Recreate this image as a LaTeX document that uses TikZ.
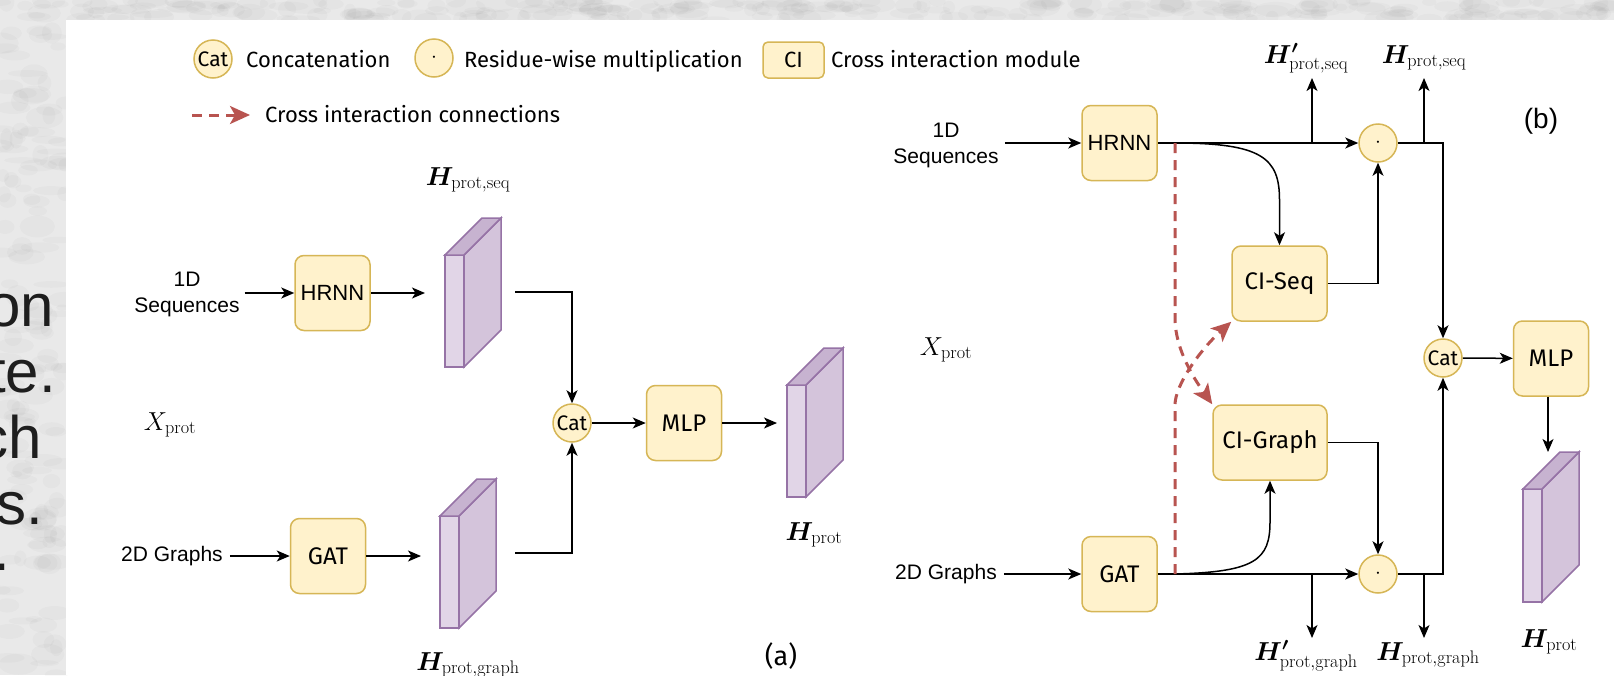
\RequirePackage{fix-cm}
\documentclass[tikz,border=0pt]{standalone}
\usepackage{fontspec}
\usepackage{amsmath,bm}
\usetikzlibrary{arrows.meta}
\newfontfamily\arialf{Liberation Sans}
\newfontfamily\comicf{Fira Sans}
\definecolor{boxfill}{HTML}{FFF2CC}
\definecolor{boxline}{HTML}{D6B656}
\definecolor{cubeline}{HTML}{9673A6}
\definecolor{cubefront}{HTML}{E1D5E7}
\definecolor{cubeside}{HTML}{D4C4DB}
\definecolor{cubetop}{HTML}{C7B3D0}
\definecolor{redc}{HTML}{B85450}
\definecolor{bggray}{HTML}{E9E9E9}
\definecolor{slidetext}{HTML}{1E1E1E}
\newcommand{\mycube}[4]{%
  \filldraw[cubeface, fill=cubefront] (#1,#2) rectangle ++(#3,#4);
  \filldraw[cubeface, fill=cubeside] ({#1+#3},#2) -- ++(37,-37) -- ++(0,#4) -- ++(-37,37) -- cycle;
  \filldraw[cubeface, fill=cubetop] (#1,#2) -- ++(37,-37) -- ++(#3,0) -- ++(-37,37) -- cycle;
}
\begin{document}
\begin{tikzpicture}[x=1pt,y=-1pt,
  arr/.style={-{Stealth[length=13pt,width=11pt,inset=3.5pt]}, line width=1.5pt},
  redarr/.style={draw=redc, line width=3pt, dash pattern=on 10pt off 7pt, -{Stealth[length=20pt,width=18pt,inset=5pt]}},
  box/.style={draw=boxline, fill=boxfill, line width=1.5pt, rounded corners=9pt, minimum width=75pt, minimum height=75pt, inner sep=0pt, font=\comicf\fontsize{24}{28}\selectfont},
  circ/.style={circle, draw=boxline, fill=boxfill, line width=1.5pt, minimum size=38pt, inner sep=0pt, font=\comicf\fontsize{21}{24}\selectfont},
  ctext/.style={inner sep=0pt, font=\comicf\fontsize{22}{26}\selectfont},
  lbl/.style={inner sep=0pt, align=center, font=\arialf\fontsize{21}{26}\selectfont},
  mlbl/.style={inner sep=0pt, font=\fontsize{26}{30}\selectfont},
  slide/.style={inner sep=0pt, text=slidetext, font=\arialf\fontsize{60}{66}\selectfont},
  blot/.style={fill=black, opacity=0.018},
  cubeface/.style={draw=cubeline, line width=1.5pt, line join=miter}]
\useasboundingbox (0,0) rectangle (1614,675);
\fill[bggray] (0,0) rectangle (1614,675);
% soft mottled texture of the slide background
\pgfmathsetseed{11}
\foreach \i in {1,...,160}{
  \pgfmathsetmacro\xx{rnd*66}
  \pgfmathsetmacro\yy{rnd*675}
  \pgfmathsetmacro\aa{6+rnd*14}
  \pgfmathsetmacro\bb{3+rnd*8}
  \fill[blot] (\xx,\yy) ellipse ({\aa} and {\bb});
}
\foreach \i in {1,...,260}{
  \pgfmathsetmacro\xx{66+rnd*1548}
  \pgfmathsetmacro\yy{rnd*20}
  \pgfmathsetmacro\aa{6+rnd*16}
  \pgfmathsetmacro\bb{3+rnd*6}
  \fill[blot] (\xx,\yy) ellipse ({\aa} and {\bb});
}
\fill[white] (66,20) rectangle (1614,675);
% slide text behind
\node[slide, anchor=base east] (s1) at (54,326) {on};
\node[slide, anchor=base east] (s2) at (56,392) {te.};
\node[slide, anchor=base east] (s3) at (42,458) {ch};
\node[slide, anchor=base east] (s4) at (43,524) {s.};
\node[slide, anchor=base east] (s5) at (10,570) {.};
% legend
\node[circ] (lcat) at (213,59) {Cat};
\node[ctext, anchor=base west] (lcatt) at (246,67) {Concatenation};
\node[circ] (ldot) at (434,58) {$\cdot$};
\node[ctext, anchor=base west] (ldott) at (464,67) {Residue-wise multiplication};
\node[box, minimum width=61pt, minimum height=36pt, rounded corners=5pt, font=\comicf\fontsize{22}{26}\selectfont] (lci) at (793.5,60) {CI};
\node[ctext, anchor=base west] (lcit) at (831,67) {Cross interaction module};
\coordinate (lr1) at (192,115);
\coordinate (lr2) at (250,115);
\draw[redarr] (lr1) -- (lr2);
\node[ctext, anchor=base west] (lrt) at (265,122) {Cross interaction connections};
% ---------------- (a)
\node[lbl] (aseq) at (187,294) {1D\\Sequences};
\node[box, font=\arialf\fontsize{22}{26}\selectfont] (ahrnn) at (332.5,293) {HRNN};
\node[lbl] (a2d) at (172,556) {2D Graphs};
\node[box] (agat) at (328,556) {GAT};
\node[mlbl, anchor=base] (axp) at (170,430) {$X_{\mathrm{prot}}$};
\mycube{445}{255}{19}{112}
\mycube{440}{516}{19}{112}
\mycube{787}{385}{19}{112}
\node[mlbl, anchor=base] (ahs) at (468,185) {$\bm{H}_{\mathrm{prot,seq}}$};
\node[mlbl, anchor=base] (ahg) at (468,670) {$\bm{H}_{\mathrm{prot,graph}}$};
\node[mlbl, anchor=base] (ahp) at (814,540) {$\bm{H}_{\mathrm{prot}}$};
\node[circ] (acat) at (572,423) {Cat};
\node[box] (amlp) at (684,423) {MLP};
\node[ctext, anchor=base, font=\comicf\fontsize{27}{30}\selectfont] (alab) at (781,665) {(a)};
\coordinate (aseqin) at (425,293);
\coordinate (agrin) at (421,556);
\coordinate (aseqo) at (515,292);
\coordinate (agro) at (515,553);
\coordinate (aoutin) at (777,423);
\draw[arr] ([xshift=5pt]aseq.east |- ahrnn) -- (ahrnn);
\draw[arr] (ahrnn) -- (aseqin);
\draw[arr] ([xshift=7pt]a2d.east) -- (agat);
\draw[arr] (agat) -- (agrin);
\draw[arr] (aseqo) -| (acat);
\draw[arr] (agro) -| (acat);
\draw[arr] (acat) -- (amlp);
\draw[arr] (amlp) -- (aoutin);
% ---------------- (b)
\node[lbl] (bseq) at (946,145) {1D\\Sequences};
\node[box, font=\arialf\fontsize{22}{26}\selectfont] (bhrnn) at (1119.5,143) {HRNN};
\node[lbl] (b2d) at (946,574) {2D Graphs};
\node[box] (bgat) at (1119.5,574) {GAT};
\node[mlbl, anchor=base] (bxp) at (946,355) {$X_{\mathrm{prot}}$};
\node[box, minimum width=95pt] (bciseq) at (1279.5,283.5) {CI-Seq};
\node[box, minimum width=114pt] (bcigr) at (1270,442.5) {CI-Graph};
\node[circ] (bdot1) at (1378,143) {$\cdot$};
\node[circ] (bdot2) at (1378,574) {$\cdot$};
\node[circ] (bcat) at (1443,358) {Cat};
\node[box] (bmlp) at (1551,358.5) {MLP};
\mycube{1523}{489}{19}{113}
\node[mlbl, anchor=base] (bhs1) at (1306,63) {$\bm{H}^{\bm{\prime}}_{\mathrm{prot,seq}}$};
\node[mlbl, anchor=base] (bhs2) at (1424,63) {$\bm{H}_{\mathrm{prot,seq}}$};
\node[mlbl, anchor=base] (bhg1) at (1306,660) {$\bm{H}^{\bm{\prime}}_{\mathrm{prot,graph}}$};
\node[mlbl, anchor=base] (bhg2) at (1428,660) {$\bm{H}_{\mathrm{prot,graph}}$};
\node[mlbl, anchor=base] (bhp) at (1549,647) {$\bm{H}_{\mathrm{prot}}$};
\node[inner sep=0pt, anchor=base, font=\arialf\fontsize{28}{30}\selectfont] (blab) at (1541,128) {(b)};
\coordinate (bsp1) at (1175,143);
\coordinate (bsp2) at (1175,574);
\coordinate (bu1) at (1312,143);
\coordinate (bu1t) at (1312,78);
\coordinate (bu2) at (1424,143);
\coordinate (bu2t) at (1424,78);
\coordinate (bd1) at (1312,574);
\coordinate (bd1b) at (1312,638);
\coordinate (bd2) at (1424,574);
\coordinate (bd2b) at (1424,638);
\coordinate (bmlpo) at (1548,452);
\draw[arr] ([xshift=6pt]bseq.east |- bhrnn) -- (bhrnn);
\draw[arr] ([xshift=7pt]b2d.east) -- (bgat);
\draw[arr] (bhrnn) -- (bdot1);
\draw[arr] (bgat) -- (bdot2);
\draw[arr] (bu1) -- (bu1t);
\draw[arr] (bu2) -- (bu2t);
\draw[arr] (bd1) -- (bd1b);
\draw[arr] (bd2) -- (bd2b);
\draw[arr] (bdot1.east) -| (bcat);
\draw[arr] (bdot2.east) -| (bcat);
\draw[arr] (bciseq.east) -| (bdot1);
\draw[arr] (bcigr.east) -| (bdot2);
\draw[arr] (bsp1) .. controls (1262,143) and (1279.5,158) .. (1279.5,200) -- (bciseq.north);
\draw[arr] (bsp2) .. controls (1255,572) and (1270,560) .. (1270,522) -- (bcigr.south);
\draw[arr] (bcat) -- (bmlp);
\draw[arr] (bmlp.south -| bmlpo) -- (bmlpo);
\draw[redarr] (bsp1) -- (1175,318) .. controls (1175,350) and (1195,380) .. (bcigr.north west);
\draw[redarr] (bsp2) -- (1175,405) .. controls (1175,385) and (1200,350) .. (bciseq.south west);
\end{tikzpicture}
\end{document}
